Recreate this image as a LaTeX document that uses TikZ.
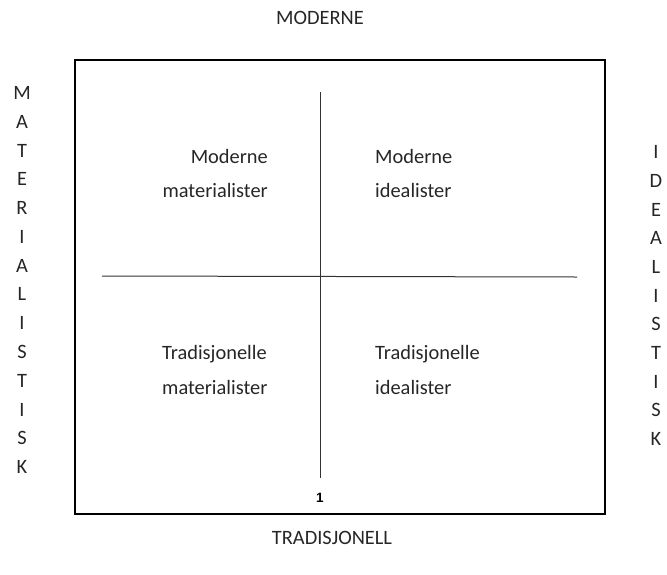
\documentclass[tikz,border=0pt]{standalone}
\usepackage{fontspec}
\setmainfont{Carlito}
\newfontfamily\arialfont{Liberation Sans}
\definecolor{txt}{HTML}{262626}
\begin{document}
\begin{tikzpicture}[x=1pt,y=-1pt,
  lbl/.style={inner sep=0pt,anchor=base,font=\fontsize{20.4}{24}\selectfont,text=txt},
  lblW/.style={lbl,anchor=base west},
  lblE/.style={lbl,anchor=base east},
  frame/.style={line width=2pt,draw=black},
  axis/.style={line width=1pt,draw=black!80}]
\useasboundingbox (0,0) rectangle (667,574);
% frame
\node[frame,minimum width=530,minimum height=454,inner sep=0pt,anchor=north west] (box) at (73.5,59) {};
% axes
\coordinate (vt) at (320,92);
\coordinate (vb) at (320,478);
\coordinate (hl) at (102,276);
\coordinate (hr) at (577,277);
\draw[axis] (vt) -- (vb);
\draw[axis] (hl) -- (hr);
\node[inner sep=0pt,anchor=base,font=\arialfont\bfseries\fontsize{13.5}{14}\selectfont] (one) at (320,502) {1};
% axis labels
\node[lbl] (top) at (320,24) {MODERNE};
\node[lbl] (bot) at (332,544) {TRADISJONELL};
% quadrant texts
\node[lblE] (q1a) at (268,163) {Moderne};
\node[lblE] (q1b) at (268,197) {materialister};
\node[lblW] (q2a) at (375,163) {Moderne};
\node[lblW] (q2b) at (375,197) {idealister};
\node[lblW] (q3a) at (162,359) {Tradisjonelle};
\node[lblW] (q3b) at (162,394) {materialister};
\node[lblW] (q4a) at (375,359) {Tradisjonelle};
\node[lblW] (q4b) at (375,394) {idealister};
% left vertical word
\foreach \ch [count=\i from 0] in {M,A,T,E,R,I,A,L,I,S,T,I,S,K}
  \node[lbl] (L\i) at (22,{99.6+\i*28.77}) {\ch};
% right vertical word
\foreach \ch [count=\i from 0] in {I,D,E,A,L,I,S,T,I,S,K}
  \node[lbl] (R\i) at (656,{158.6+\i*28.7}) {\ch};
\end{tikzpicture}
\end{document}
